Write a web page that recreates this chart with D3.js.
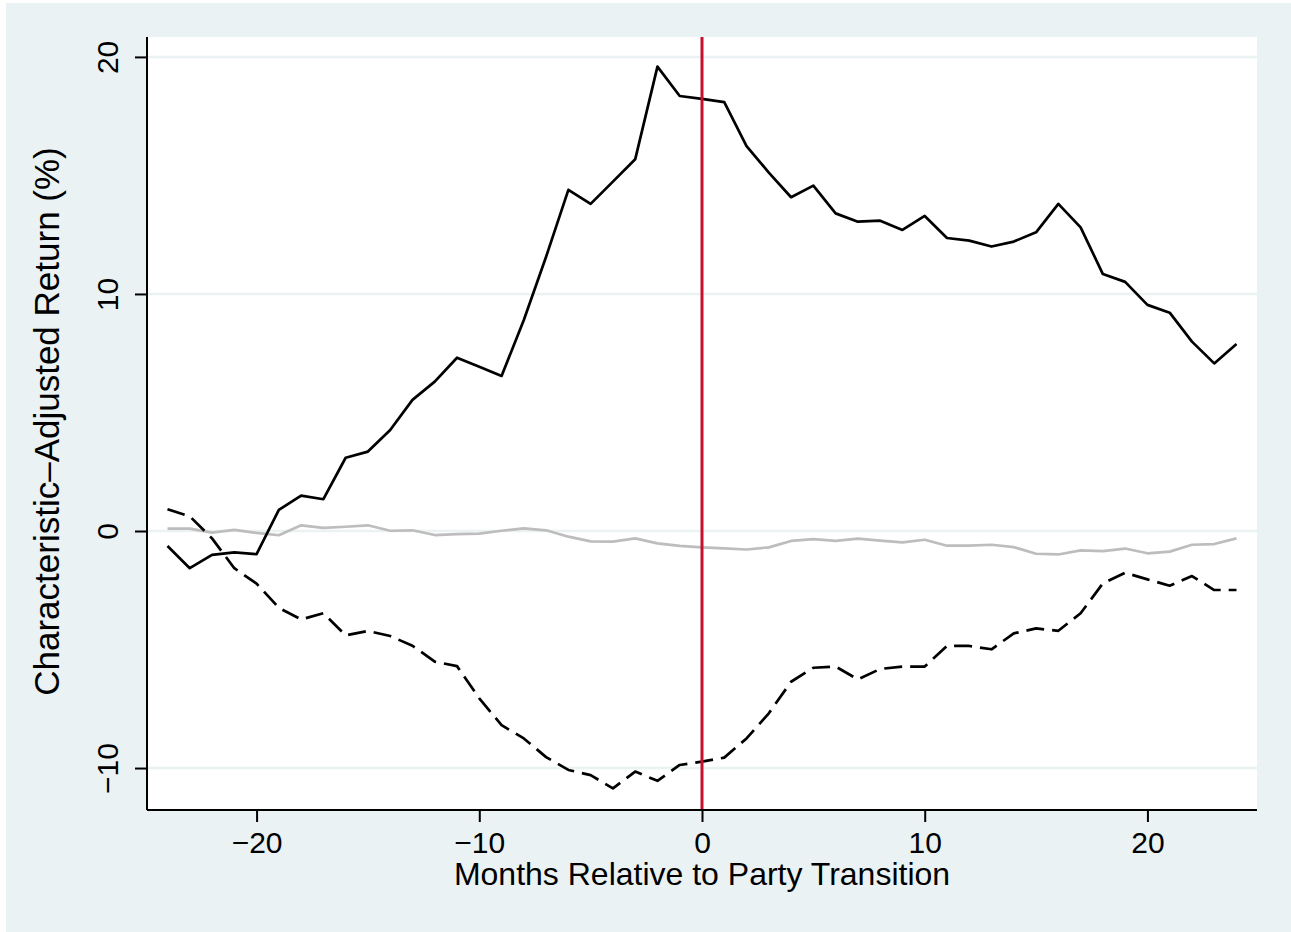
<!DOCTYPE html>
<html lang="en">
<head>
  <meta charset="utf-8" />
  <title>Characteristic-Adjusted Return</title>
  <script src="https://cdnjs.cloudflare.com/ajax/libs/d3/7.8.5/d3.min.js"></script>
  <style>
    body { margin: 0; background: #fff; }
    svg { display: block; font-family: 'Liberation Sans', Arial, sans-serif; }
  </style>
</head>
<body>
<svg id="chart" width="1291" height="932"></svg>
<script>
// months relative to the party transition
const months = d3.range(-24, 25);

// solid black series
const solidSeries = [
  -0.63, -1.57, -1.01, -0.90, -0.98, 0.89, 1.49, 1.34, 3.09, 3.35,
  4.26, 5.53, 6.30, 7.31, 6.93, 6.54, 8.90, 11.57, 14.39, 13.80,
  14.74, 15.68, 19.59, 18.35, 18.23, 18.09, 16.24, 15.12, 14.08, 14.57,
  13.40, 13.05, 13.09, 12.70, 13.29, 12.36, 12.25, 12.00, 12.21, 12.60,
  13.80, 12.81, 10.84, 10.51, 9.54, 9.21, 7.99, 7.07, 7.89
];

// dashed black series
const dashedSeries = [
  0.92, 0.62, -0.31, -1.57, -2.22, -3.24, -3.73, -3.47, -4.40, -4.22,
  -4.43, -4.84, -5.51, -5.70, -7.06, -8.19, -8.75, -9.54, -10.08, -10.30,
  -10.86, -10.15, -10.54, -9.87, -9.73, -9.56, -8.75, -7.69, -6.36, -5.77,
  -5.72, -6.26, -5.82, -5.72, -5.72, -4.85, -4.85, -4.99, -4.32, -4.11,
  -4.21, -3.47, -2.21, -1.76, -2.04, -2.31, -1.90, -2.49, -2.49
];

// light gray series
const graySeries = [
  0.10, 0.10, -0.07, 0.05, -0.08, -0.18, 0.24, 0.13, 0.18, 0.24,
  0.01, 0.03, -0.17, -0.13, -0.11, 0.01, 0.11, 0.03, -0.24, -0.44,
  -0.45, -0.31, -0.52, -0.63, -0.69, -0.73, -0.78, -0.69, -0.42, -0.34,
  -0.42, -0.32, -0.41, -0.48, -0.37, -0.62, -0.62, -0.58, -0.68, -0.96,
  -0.99, -0.82, -0.85, -0.74, -0.94, -0.87, -0.58, -0.55, -0.31
];

const xTicks = [-20, -10, 0, 10, 20];
const yTicks = [-10, 0, 10, 20];
const eventMonth = 0;

const svg = d3.select("#chart");
const plot = {left: 147, right: 1257, top: 37, bottom: 810};

const x = d3.scaleLinear().domain([-24.92, 24.92]).range([plot.left, plot.right]);
const y = d3.scaleLinear().domain([-11.77, 20.84]).range([plot.bottom, plot.top]);

// graph region
svg.append("rect").attr("x", 6).attr("y", 3).attr("width", 1285).attr("height", 929).attr("fill", "#eaf2f3");
svg.append("rect")
  .attr("x", plot.left).attr("y", plot.top)
  .attr("width", plot.right - plot.left).attr("height", plot.bottom - plot.top)
  .attr("fill", "#fff");

// gridlines
svg.append("g").selectAll("line")
  .data(yTicks)
  .join("line")
  .attr("x1", plot.left).attr("x2", plot.right)
  .attr("y1", d => y(d)).attr("y2", d => y(d))
  .attr("stroke", "#eaf2f3")
  .attr("stroke-width", 2.5);

// series
const line = vals => d3.line().x((d, i) => x(months[i])).y(d => y(d))(vals);

svg.append("path").attr("d", line(graySeries))
  .attr("fill", "none").attr("stroke", "#bdbdbd").attr("stroke-width", 2.7).attr("stroke-linejoin", "round");
svg.append("path").attr("d", line(dashedSeries))
  .attr("fill", "none").attr("stroke", "#000").attr("stroke-width", 2.7)
  .attr("stroke-dasharray", "18,8").attr("stroke-linejoin", "round");
svg.append("path").attr("d", line(solidSeries))
  .attr("fill", "none").attr("stroke", "#000").attr("stroke-width", 2.7).attr("stroke-linejoin", "round");

// event line
svg.append("line")
  .attr("x1", x(eventMonth)).attr("x2", x(eventMonth))
  .attr("y1", plot.top).attr("y2", plot.bottom)
  .attr("stroke", "#c8102e").attr("stroke-width", 3);

// axes
const xAxis = svg.append("g")
  .attr("transform", `translate(0,${plot.bottom})`)
  .call(d3.axisBottom(x).tickValues(xTicks).tickSize(12).tickSizeOuter(0));
xAxis.select(".domain").attr("d", `M${plot.left},0H${plot.right}`).attr("stroke-width", 2);
xAxis.selectAll(".tick line").attr("stroke-width", 2);
xAxis.selectAll(".tick text")
  .attr("y", 43).attr("dy", null)
  .style("font-size", "30px").attr("fill", "#000");

const yAxis = svg.append("g")
  .attr("transform", `translate(${plot.left},0)`)
  .call(d3.axisLeft(y).tickValues(yTicks).tickSize(12).tickSizeOuter(0));
yAxis.select(".domain").attr("d", `M0,${plot.top}V${plot.bottom}`).attr("stroke-width", 2);
yAxis.selectAll(".tick line").attr("stroke-width", 2);
yAxis.selectAll(".tick text")
  .attr("transform", "rotate(-90)")
  .attr("x", 0).attr("y", -29).attr("dy", null)
  .attr("text-anchor", "middle")
  .style("font-size", "30px").attr("fill", "#000");

// axis titles
svg.append("text")
  .attr("x", (plot.left + plot.right) / 2).attr("y", 885)
  .attr("text-anchor", "middle")
  .style("font-size", "32px")
  .text("Months Relative to Party Transition");

svg.append("text")
  .attr("transform", `translate(59,${(plot.top + plot.bottom) / 2 - 2}) rotate(-90)`)
  .attr("text-anchor", "middle")
  .style("font-size", "35px")
  .text("Characteristic–Adjusted Return (%)");
</script>
</body>
</html>
